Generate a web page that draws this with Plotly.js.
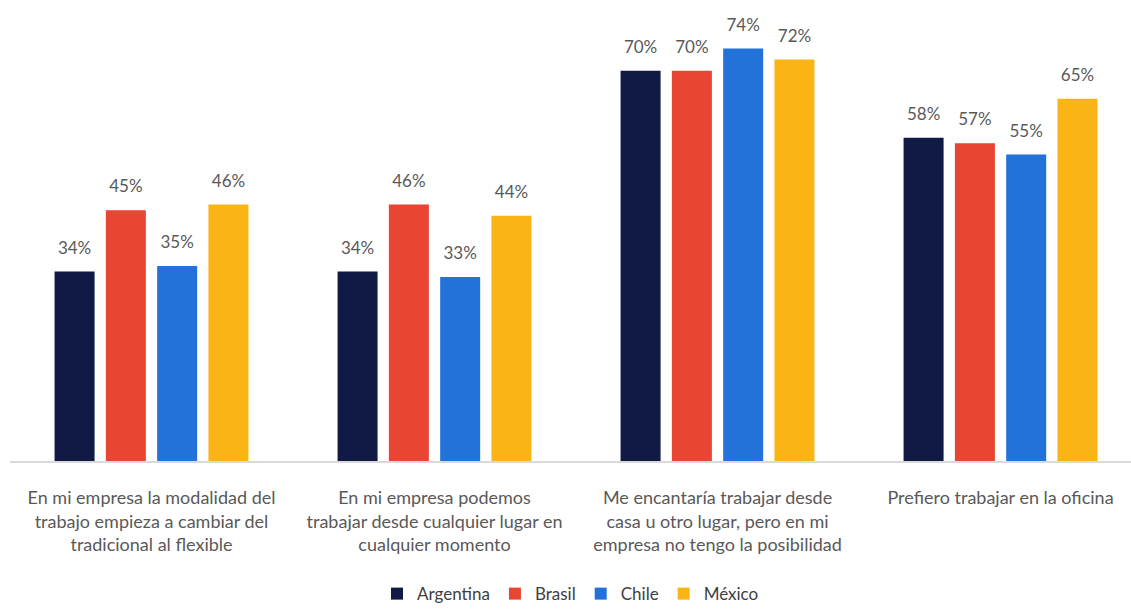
<!DOCTYPE html>
<html><head><meta charset="utf-8">
<script src="https://cdn.plot.ly/plotly-3.0.1.min.js"></script>
<style>html,body{margin:0;padding:0;background:#fff}#chart{width:1131px;height:609px}</style>
</head><body><div id="chart"></div>
<script>
const categories = [
  "En mi empresa la modalidad del<br>trabajo empieza a cambiar del<br>tradicional al flexible",
  "En mi empresa podemos<br>trabajar desde cualquier lugar en<br>cualquier momento",
  "Me encantaría trabajar desde<br>casa u otro lugar, pero en mi<br>empresa no tengo la posibilidad",
  "Prefiero trabajar en la oficina"
];
const seriesNames = ["Argentina", "Brasil", "Chile", "México"];
const argentina = [34, 34, 70, 58];
const brasil = [45, 46, 70, 57];
const chile = [35, 33, 74, 55];
const mexico = [46, 44, 72, 65];
const colors = ["#111a45", "#e84533", "#2272d9", "#fbb416"];
const values = [argentina, brasil, chile, mexico];
const FONT = "Lato, 'Open Sans', sans-serif";
const bars = values.map((v, i) => ({
  type: 'bar', name: seriesNames[i], x: categories, y: v,
  marker: {color: colors[i]}, hoverinfo: 'none'
}));
const labels = values.map((v, i) => ({
  type: 'scatter', mode: 'text+markers', x: categories, y: v, showlegend: false,
  marker: {size: 20, opacity: 0, color: colors[i]},
  text: v.map(d => d + '%'), textposition: 'top center', cliponaxis: false,
  textfont: {family: FONT, size: 17, color: '#595959'}, hoverinfo: 'none'
}));
const layout = {
  width: 1131, height: 609,
  margin: {l: 10, r: 0, t: 15, b: 148, autoexpand: false},
  paper_bgcolor: '#fff', plot_bgcolor: '#fff',
  barmode: 'group', bargap: 0.275, bargroupgap: 0.22,
  scattermode: 'group', scattergap: 0.275,
  showlegend: true,
  legend: {orientation: 'h', x: 0.5, xanchor: 'center', y: -0.258, yanchor: 'top',
    font: {family: FONT, size: 17, color: '#404040'}, itemwidth: 30, tracegroupgap: 0},
  xaxis: {range: [-0.5, 3.461], showline: true, linecolor: '#d9d9d9', linewidth: 1.5,
    ticks: 'outside', ticklen: 20, tickcolor: 'rgba(0,0,0,0)',
    tickfont: {family: FONT, size: 18, color: '#595959'}, fixedrange: true},
  yaxis: {range: [0, 80], visible: false, showgrid: false, zeroline: false},
  font: {family: FONT}
};
Plotly.newPlot('chart', bars.concat(labels), layout, {displayModeBar: false, staticPlot: true});
</script></body></html>
